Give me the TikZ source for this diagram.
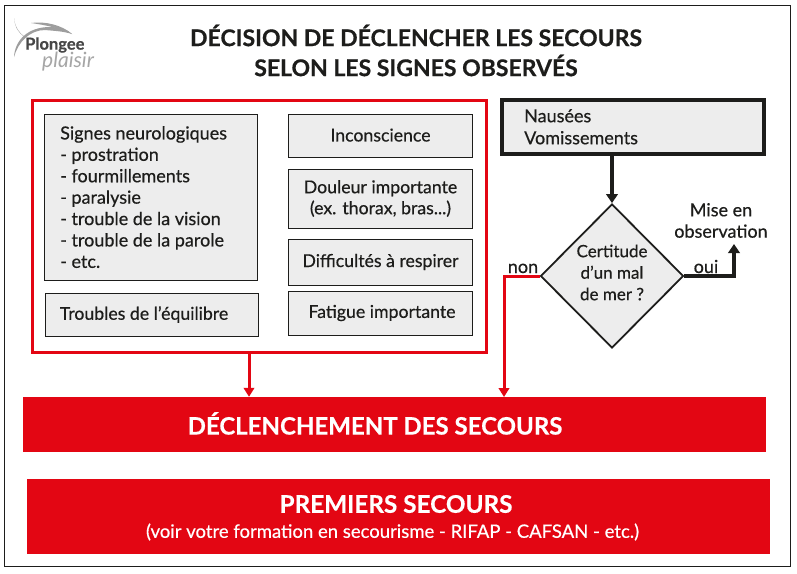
\documentclass[tikz,border=0pt]{standalone}
\usepackage{fontspec}
\setmainfont{Lato}[FakeBold=0.5]
\newfontfamily\logoitalic{Lato}[Scale=1]
\usetikzlibrary{shapes.geometric,arrows.meta}
\definecolor{rouge}{HTML}{E30613}
\definecolor{gris}{HTML}{EDEDED}
\definecolor{noir}{HTML}{1D1D1B}
\tikzset{
  softbox/.style={draw=noir,line width=0.9pt,fill=gris,inner sep=0pt,text=noir,font=\fontsize{17.7}{21}\selectfont,align=center},
  redbar/.style={fill=rouge,inner sep=0pt,text=white,align=center},
  lbl/.style={inner sep=0pt,text=noir,font=\fontsize{18}{21.4}\selectfont,align=center},
  blackarrow/.style={draw=noir,line width=3.4pt,-{Triangle[length=9pt,width=11.5pt]}},
  redarrow/.style={draw=rouge,line width=3pt,-{Triangle[length=9pt,width=10.5pt]}}
}
\begin{document}
\begin{tikzpicture}[x=1pt,y=-1pt]
\useasboundingbox (0,0) rectangle (797,573);
\fill[white] (0,0) rectangle (797,573);
\node[draw=noir,line width=0.9pt,minimum width=786pt,minimum height=561pt,inner sep=0pt] (frame) at (397,285.5) {};
% logo
\fill[black!38] (14,18) .. controls (15,27) and (19,33) .. (25,37) .. controls (18,33) and (15,27) .. (14,18) -- cycle;
\fill[black!38] (14,57) .. controls (15,40) and (28,27) .. (50,27) .. controls (60,27) and (68,30) .. (72,34) .. controls (62,31) and (55,31) .. (45,30) .. controls (30,30) and (18,42) .. (14,57) -- cycle;
\fill[black!38] (31,23) .. controls (45,21) and (62,25) .. (72,34) .. controls (60,28) and (45,25) .. (31,23) -- cycle;
\node[inner sep=0pt,anchor=west,text=black!72,font=\bfseries\fontsize{16.5}{16.5}\selectfont] (logoa) at (25,45) {Plongee};
\node[inner sep=0pt,anchor=west,text=black!35,font=\logoitalic\itshape\fontsize{21}{21}\selectfont] (logob) at (42,62) {plaisir};
% title
\node[inner sep=0pt,text=noir,align=center,font=\bfseries\fontsize{23}{30}\selectfont] (title) at (416,50.5) {DÉCISION DE DÉCLENCHER LES SECOURS\\SELON LES SIGNES OBSERVÉS};
% red frame
\node[draw=rouge,line width=3pt,minimum width=454pt,minimum height=252pt,inner sep=0pt] (redframe) at (259,226) {};
\node[softbox,minimum width=213pt,minimum height=166pt,align=left] (neuro) at (151,197) {};
\node[lbl,align=left,anchor=north west] (neurot) at (60,126) {Signes neurologiques\\- prostration\\- fourmillements\\- paralysie\\- trouble de la vision\\- trouble de la parole\\- etc.};
\node[softbox,minimum width=213pt,minimum height=43pt] (equil) at (152,314.5) {Troubles de l’équilibre\hspace*{16pt}};
\node[softbox,minimum width=184pt,minimum height=43pt] (incon) at (380.5,135.5) {\raisebox{1pt}{Inconscience}};
\node[softbox,minimum width=184pt,minimum height=59pt] (doul) at (380.5,198.5) {Douleur importante\\(ex. thorax, bras...)};
\node[softbox,minimum width=184pt,minimum height=46pt] (resp) at (380.5,262) {Difficultés à respirer};
\node[softbox,minimum width=184pt,minimum height=44pt] (fat) at (380.5,313) {\hspace*{3pt}Fatigue importante};
% right
\node[draw=noir,line width=3.2pt,fill=gris,minimum width=262pt,minimum height=54pt,inner sep=0pt] (naus) at (633,127) {};
\node[lbl,align=left,anchor=north west,font=\fontsize{18}{22}\selectfont] (naust) at (524,109) {Nausées\\Vomissements};
\node[diamond,draw=noir,line width=1.8pt,fill=gris,minimum width=143pt,minimum height=144pt,inner sep=0pt,aspect=1] (dia) at (612,276) {};
\node[lbl,align=center,font=\fontsize{17}{21.5}\selectfont] (diat) at (612,272.5) {Certitude\\d’un mal\\de mer ?};
\node[lbl] (obs) at (721,220.5) {Mise en\\observation};
\node[lbl,anchor=base] (oui) at (706,273) {oui};
\node[lbl,anchor=base] (non) at (523,273) {non};
% bars
\node[redbar,minimum width=743pt,minimum height=55pt] (bar) at (394.5,424.5) {};
\node[inner sep=0pt,text=white,font=\bfseries\fontsize{24}{30}\selectfont] (bara) at (375,423.5) {DÉCLENCHEMENT DES SECOURS};
\node[redbar,minimum width=743pt,minimum height=75pt] (bar2) at (398.5,516.5) {};
\node[inner sep=0pt,text=white,font=\bfseries\fontsize{24.3}{30}\selectfont] (bar2a) at (396,504) {PREMIERS SECOURS};
\node[inner sep=0pt,text=white,font=\fontsize{18.5}{20}\selectfont] (bar2b) at (392.5,532) {(voir votre formation en secourisme - RIFAP - CAFSAN - etc.)};
% connectors
\coordinate (ra) at (249,352);
\coordinate (rb) at (504,397);
\coordinate (ou) at (734,244);
\draw[blackarrow] (naus.south -| dia.north) -- (dia.north);
\draw[blackarrow] (dia.east) -| (ou);
\draw[redarrow] (dia.west) -| (rb);
\draw[redarrow] (ra) -- (ra |- bar.north);
\end{tikzpicture}
\end{document}
